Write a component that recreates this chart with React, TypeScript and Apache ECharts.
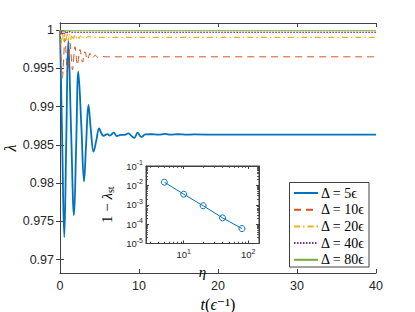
import React, { useEffect, useRef } from "react";
import * as echarts from "echarts";

// ---------- main chart data (t in 1/epsilon, lambda) ----------
const t5 = [0, 0.27, 0.54, 0.8, 1.05, 1.4, 1.77, 2.05, 2.32, 2.7, 3.04, 3.3, 3.6, 3.9, 4.25, 4.6, 4.95, 5.2, 5.5, 6.0, 6.3, 6.8, 7.2, 7.7, 8.2, 8.65, 9.0, 9.4, 9.83, 10.3, 10.8, 11.5, 12.5, 13.3, 14, 15, 16, 17, 20, 40];
const v5 = [1.0, 0.986, 0.9729, 0.986, 0.9986, 0.987, 0.9758, 0.985, 0.99455, 0.9875, 0.9802, 0.985, 0.9902, 0.987, 0.9841, 0.9856, 0.98715, 0.9866, 0.98618, 0.9864, 0.9862, 0.98658, 0.98614, 0.9863, 0.9863, 0.9865, 0.9862, 0.9859, 0.98658, 0.986, 0.98635, 0.98638, 0.98632, 0.98642, 0.98632, 0.98638, 0.98632, 0.98635, 0.98632, 0.98632];

const t10 = [0, 0.3, 0.63, 0.95, 1.27, 1.58, 1.9, 2.2, 2.53, 2.85, 3.16, 3.48, 3.8, 4.1, 4.45, 4.8, 5.2, 6, 40];
const v10 = [1.0, 0.9937, 0.9989, 0.9941, 0.99826, 0.9948, 0.99782, 0.9954, 0.99747, 0.9958, 0.99716, 0.9961, 0.99695, 0.9963, 0.99672, 0.9964, 0.99655, 0.9965, 0.9965];

const t20 = [0, 0.15, 0.3, 0.45, 0.6, 0.75, 0.9, 1.05, 1.2, 1.35, 1.5, 1.65, 1.8, 2.0, 2.2, 2.4, 2.6, 2.8, 3.0, 3.3, 3.6, 4, 40];
const v20 = [1.0, 0.9982, 0.9997, 0.9984, 0.9996, 0.9985, 0.9996, 0.9986, 0.9995, 0.9987, 0.9994, 0.9987, 0.9993, 0.9988, 0.9993, 0.9989, 0.99925, 0.9989, 0.9992, 0.999, 0.99915, 0.99904, 0.99904];

const t40 = [0, 0.1, 0.2, 0.3, 0.4, 0.5, 0.6, 0.7, 0.8, 1.0, 1.2, 1.4, 1.7, 2.0, 40];
const v40 = [1.0, 0.9994, 0.99995, 0.9995, 0.99993, 0.99955, 0.9999, 0.9996, 0.99985, 0.99962, 0.9998, 0.99965, 0.99975, 0.9997, 0.9997];

const t80 = [0, 0.05, 0.1, 0.2, 0.4, 40];
const v80 = [1.0, 0.99985, 0.99995, 0.99991, 0.99991, 0.99991];

const seriesNames = ["Δ = 5ϵ", "Δ = 10ϵ", "Δ = 20ϵ", "Δ = 40ϵ", "Δ = 80ϵ"];

const xTicks = [0, 10, 20, 30, 40];
const yTickLabels = ["0.97", "0.975", "0.98", "0.985", "0.99", "0.995", "1"];

// ---------- inset data ----------
const eta = [5, 10, 20, 40, 80];
const oneMinusLambdaSt = [0.0146, 0.0035, 0.00089, 0.00021, 0.000059];
const insetXMajor = [10, 100];
const insetYMajor = [1e-5, 1e-4, 1e-3, 1e-2, 1e-1];
const insetXMinor = [3, 4, 5, 6, 7, 8, 9, 20, 30, 40, 50, 60, 70, 80, 90];
const insetYMinor = [2e-5, 3e-5, 4e-5, 5e-5, 6e-5, 7e-5, 8e-5, 9e-5, 2e-4, 3e-4, 4e-4, 5e-4, 6e-4, 7e-4, 8e-4, 9e-4, 2e-3, 3e-3, 4e-3, 5e-3, 6e-3, 7e-3, 8e-3, 9e-3, 2e-2, 3e-2, 4e-2, 5e-2, 6e-2, 7e-2, 8e-2, 9e-2];

const zip = (a: number[], b: number[]) => a.map((x, i) => [x, b[i]]);

const AX = "#404040";
const SANS = "Liberation Sans, Arial, Helvetica, sans-serif";
const SERIF = "Liberation Serif, DejaVu Serif, Times New Roman, serif";

const yTicks = yTickLabels.map(Number);

export default function App() {
  const ref = useRef<HTMLDivElement>(null);
  useEffect(() => {
    if (!ref.current) return;
    const chart = echarts.init(ref.current, undefined, { renderer: "svg" });
    const axisLine = { show: true, lineStyle: { color: AX, width: 1 } };
    const logLabel = (v: number) => {
      const e = Math.round(Math.log10(v));
      return "{b|10}{s|" + e + "}";
    };
    const logRich = {
      b: { fontSize: 9.5, fontFamily: SANS, color: "#262626" },
      s: { fontSize: 7, fontFamily: SANS, color: "#262626", padding: [0, 0, 7, 0] },
    };
    const option: any = {
      animation: false,
      backgroundColor: "#fff",
      grid: [
        { left: 60, top: 23, width: 316, height: 250, show: false, outerBoundsMode: "none", containLabel: false },
        { left: 146, top: 166, width: 113, height: 77.5, show: true, backgroundColor: "#fff", borderColor: AX, borderWidth: 1, z: 5, outerBoundsMode: "none", containLabel: false },
      ],
      xAxis: [
        {
          type: "value", gridIndex: 0, min: 0, max: 40, interval: 10, position: "bottom",
          axisLine, axisTick: { show: true, inside: true, length: 4, lineStyle: { color: AX } },
          splitLine: { show: false },
          axisLabel: { fontSize: 12.5, fontFamily: SANS, color: "#262626", margin: 6 },
          name: "{i|t}{n|(}{i|ϵ}{n|⁻¹)}", nameLocation: "middle", nameGap: 19,
          nameTextStyle: { rich: { i: { fontFamily: SERIF, fontStyle: "italic", fontSize: 16, color: "#000" }, n: { fontFamily: SERIF, fontSize: 16, color: "#000" } } },
        },
        {
          type: "value", gridIndex: 0, min: 0, max: 40, interval: 10, position: "top",
          axisLine, axisTick: { show: true, inside: true, length: 4, lineStyle: { color: AX } },
          splitLine: { show: false }, axisLabel: { show: false },
        },
        {
          type: "log", logBase: 10, gridIndex: 1, min: 2.6, max: 147, position: "bottom", z: 6,
          axisLine, axisTick: { show: true, inside: true, length: 3, customValues: insetXMajor, lineStyle: { color: AX } },
          splitLine: { show: false },
          axisLabel: { customValues: insetXMajor, formatter: logLabel, rich: logRich, margin: 4 },
          name: "η", nameLocation: "middle", nameGap: 21,
          nameTextStyle: { fontFamily: SERIF, fontStyle: "italic", fontSize: 15, color: "#000" },
        },
        {
          type: "log", logBase: 10, gridIndex: 1, min: 2.6, max: 147, position: "top", z: 6,
          axisLine, axisTick: { show: true, inside: true, length: 3, customValues: insetXMajor, lineStyle: { color: AX } },
          splitLine: { show: false }, axisLabel: { show: false },
        },
        {
          type: "log", logBase: 10, gridIndex: 1, min: 2.6, max: 147, position: "bottom", z: 6,
          axisLine: { show: false }, axisTick: { show: true, inside: true, length: 1.8, customValues: insetXMinor, lineStyle: { color: AX } },
          splitLine: { show: false }, axisLabel: { show: false },
        },
        {
          type: "log", logBase: 10, gridIndex: 1, min: 2.6, max: 147, position: "top", z: 6,
          axisLine: { show: false }, axisTick: { show: true, inside: true, length: 1.8, customValues: insetXMinor, lineStyle: { color: AX } },
          splitLine: { show: false }, axisLabel: { show: false },
        },
      ],
      yAxis: [
        {
          type: "value", gridIndex: 0, min: 0.96824, max: 1.00092, position: "left",
          axisLine, axisTick: { show: true, inside: true, length: 4, customValues: yTicks, lineStyle: { color: AX } },
          splitLine: { show: false },
          axisLabel: {
            customValues: yTicks, fontSize: 12.5, fontFamily: SANS, color: "#262626", margin: 6,
            formatter: (v: number) => {
              const i = yTicks.findIndex((x) => Math.abs(x - v) < 1e-9);
              return i >= 0 ? yTickLabels[i] : "";
            },
          },
          name: "λ", nameLocation: "middle", nameGap: 42, nameRotate: 90, nameMoveOverlap: false,
          nameTextStyle: { fontFamily: SERIF, fontStyle: "italic", fontSize: 16, color: "#000" },
        },
        {
          type: "value", gridIndex: 0, min: 0.96824, max: 1.00092, position: "right",
          axisLine, axisTick: { show: true, inside: true, length: 4, customValues: yTicks, lineStyle: { color: AX } },
          splitLine: { show: false }, axisLabel: { show: false },
        },
        {
          type: "log", logBase: 10, gridIndex: 1, min: 1e-5, max: 1e-1, position: "left", z: 6,
          axisLine, axisTick: { show: true, inside: true, length: 3, customValues: insetYMajor, lineStyle: { color: AX } },
          splitLine: { show: false },
          axisLabel: { customValues: insetYMajor, formatter: logLabel, rich: logRich, margin: 3 },
          name: "{n|1 − }{i|λ}{sub|st}", nameLocation: "middle", nameGap: 31, nameRotate: 90,
          nameTextStyle: {
            rich: {
              n: { fontFamily: SERIF, fontSize: 15, color: "#000" },
              i: { fontFamily: SERIF, fontStyle: "italic", fontSize: 15, color: "#000" },
              sub: { fontFamily: SERIF, fontSize: 10, color: "#000", padding: [7, 0, 0, 0] },
            },
          },
        },
        {
          type: "log", logBase: 10, gridIndex: 1, min: 1e-5, max: 1e-1, position: "right", z: 6,
          axisLine, axisTick: { show: true, inside: true, length: 3, customValues: insetYMajor, lineStyle: { color: AX } },
          splitLine: { show: false }, axisLabel: { show: false },
        },
        {
          type: "log", logBase: 10, gridIndex: 1, min: 1e-5, max: 1e-1, position: "left", z: 6,
          axisLine: { show: false }, axisTick: { show: true, inside: true, length: 1.8, customValues: insetYMinor, lineStyle: { color: AX } },
          splitLine: { show: false }, axisLabel: { show: false },
        },
        {
          type: "log", logBase: 10, gridIndex: 1, min: 1e-5, max: 1e-1, position: "right", z: 6,
          axisLine: { show: false }, axisTick: { show: true, inside: true, length: 1.8, customValues: insetYMinor, lineStyle: { color: AX } },
          splitLine: { show: false }, axisLabel: { show: false },
        },
      ],
      legend: {
        orient: "vertical", left: 293, top: 183, padding: [3, 2, 1, 0],
        itemWidth: 24, itemHeight: 14, itemGap: 2.7, z: 20,
        data: seriesNames,
        itemStyle: { color: "rgba(0,0,0,0)", borderWidth: 0, opacity: 0 },
        textStyle: { fontFamily: SERIF, fontSize: 14, color: "#000", padding: [0, 0, 0, -2] },
      },
      graphic: [
        { type: "rect", shape: { x: 289.5, y: 182.5, width: 79.5, height: 84.5 }, style: { fill: "#fff", stroke: AX, lineWidth: 1 }, z: 10 },
      ],
      series: [
        { name: seriesNames[0], type: "line", xAxisIndex: 0, yAxisIndex: 0, data: zip(t5, v5), smooth: 0.4, showSymbol: false, symbol: "none", lineStyle: { color: "#0072BD", width: 1.8 }, itemStyle: { color: "#0072BD" }, z: 3 },
        { name: seriesNames[1], type: "line", xAxisIndex: 0, yAxisIndex: 0, data: zip(t10, v10), smooth: 0.3, showSymbol: false, symbol: "none", lineStyle: { color: "#D95319", width: 1, type: [7, 5] }, itemStyle: { color: "#D95319" }, z: 3 },
        { name: seriesNames[2], type: "line", xAxisIndex: 0, yAxisIndex: 0, data: zip(t20, v20), showSymbol: false, symbol: "none", lineStyle: { color: "#EDB120", width: 1.1, type: [6, 3, 1.5, 3] }, itemStyle: { color: "#EDB120" }, z: 3 },
        { name: seriesNames[3], type: "line", xAxisIndex: 0, yAxisIndex: 0, data: zip(t40, v40), showSymbol: false, symbol: "none", lineStyle: { color: "#7E2F8E", width: 1.4, type: [1.5, 1.5] }, itemStyle: { color: "#7E2F8E" }, z: 3 },
        { name: seriesNames[4], type: "line", xAxisIndex: 0, yAxisIndex: 0, data: zip(t80, v80), showSymbol: false, symbol: "none", lineStyle: { color: "#77AC30", width: 1.2 }, itemStyle: { color: "#77AC30" }, z: 3 },
        {
          name: "inset", type: "line", xAxisIndex: 2, yAxisIndex: 2, data: zip(eta, oneMinusLambdaSt),
          symbol: "circle", symbolSize: 6, showSymbol: true,
          lineStyle: { color: "#0072BD", width: 1 },
          itemStyle: { color: "rgba(0,0,0,0)", borderColor: "#0072BD", borderWidth: 1 }, z: 8,
        },
      ],
    };
    chart.setOption(option);
    return () => chart.dispose();
  }, []);
  return <div ref={ref} style={{ position: "fixed", left: 0, top: 0, width: 415, height: 312, background: "#fff" }} />;
}
